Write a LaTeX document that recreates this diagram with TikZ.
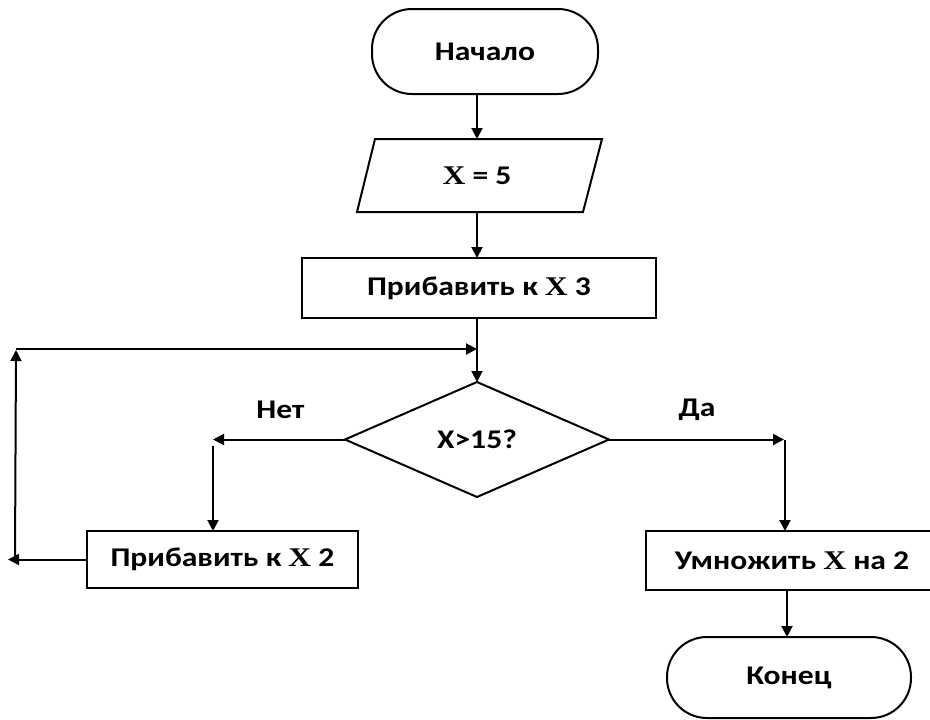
\documentclass[tikz,border=0pt]{standalone}
\usepackage{fontspec}
\setmainfont{Carlito}[FakeStretch=1.17]
\newfontfamily\tnr{Liberation Serif}[FakeStretch=1.17]
\usetikzlibrary{shapes.geometric,arrows.meta}
\newcommand\XX{{\tnr\bfseries X}}
\begin{document}
\begin{tikzpicture}[x=1pt,y=-1pt,
  every node/.style={outer sep=0pt,inner sep=0pt,font=\fontsize{27}{29}\selectfont\bfseries},
  ln/.style={line width=2pt},
  arr/.style={line width=2pt,-{Triangle[length=11pt,width=11pt]}},
  term/.style={draw,line width=2pt,rounded corners=40pt,minimum width=#1},
  box/.style={draw,line width=2pt}]
\useasboundingbox (0,0) rectangle (930,720);
\clip (0,0) rectangle (930,720);
\node[term=226pt,minimum height=85pt] (start) at (485,51.5) {Начало};
\node[minimum width=200pt,minimum height=73pt] (par) at (477,175.5) {\XX{} = 5};
\draw[ln] (375,139) -- (602,139) -- (583,212) -- (357,212) -- cycle;
\node[box,minimum width=354pt,minimum height=60pt] (r3) at (479,288) {Прибавить к \XX{} 3};
\node[draw,diamond,line width=2pt,minimum width=264pt,minimum height=115pt] (dia) at (477,439.5) {X>15?};
\node[box,minimum width=271pt,minimum height=57pt] (r2) at (222.5,559.5) {Прибавить к \XX{} 2};
\node[box,minimum width=292pt,minimum height=59pt] (r4) at (792,560.5) {Умножить \XX{} на 2};
\node[term=244pt,minimum height=81pt] (end) at (789,677.5) {Конец};
\node (no) at (280.5,409.5) {Нет};
\node (yes) at (697,410) {Да};
\draw[arr] (start.south -| par.north) -- (par.north);
\draw[arr] (par.south) -- (par.south |- r3.north);
\draw[arr] (r3.south -| dia.north) -- (dia.north);
\coordinate (nL) at (213,439.5);
\draw[arr] (dia.west) -- (nL);
\coordinate (nL2) at (213,446);
\draw[arr] (nL2) -- (nL2 |- r2.north);
\coordinate (lb) at (8,559.5);
\draw[arr] (r2.west) -- (lb);
\coordinate (lbot) at (15,558);
\coordinate (ltop) at (16,350);
\draw[arr] (lbot) -- (ltop);
\coordinate (lt2) at (16,349);
\coordinate (merge) at (477,349);
\draw[arr] (lt2) -- (merge);
\coordinate (yR) at (784,439.5);
\draw[arr] (dia.east) -- (yR);
\coordinate (yR2) at (785,440);
\draw[arr] (yR2) -- (yR2 |- r4.north);
\coordinate (e1) at (787,590);
\draw[arr] (e1) -- (e1 |- end.north);
\end{tikzpicture}
\end{document}
